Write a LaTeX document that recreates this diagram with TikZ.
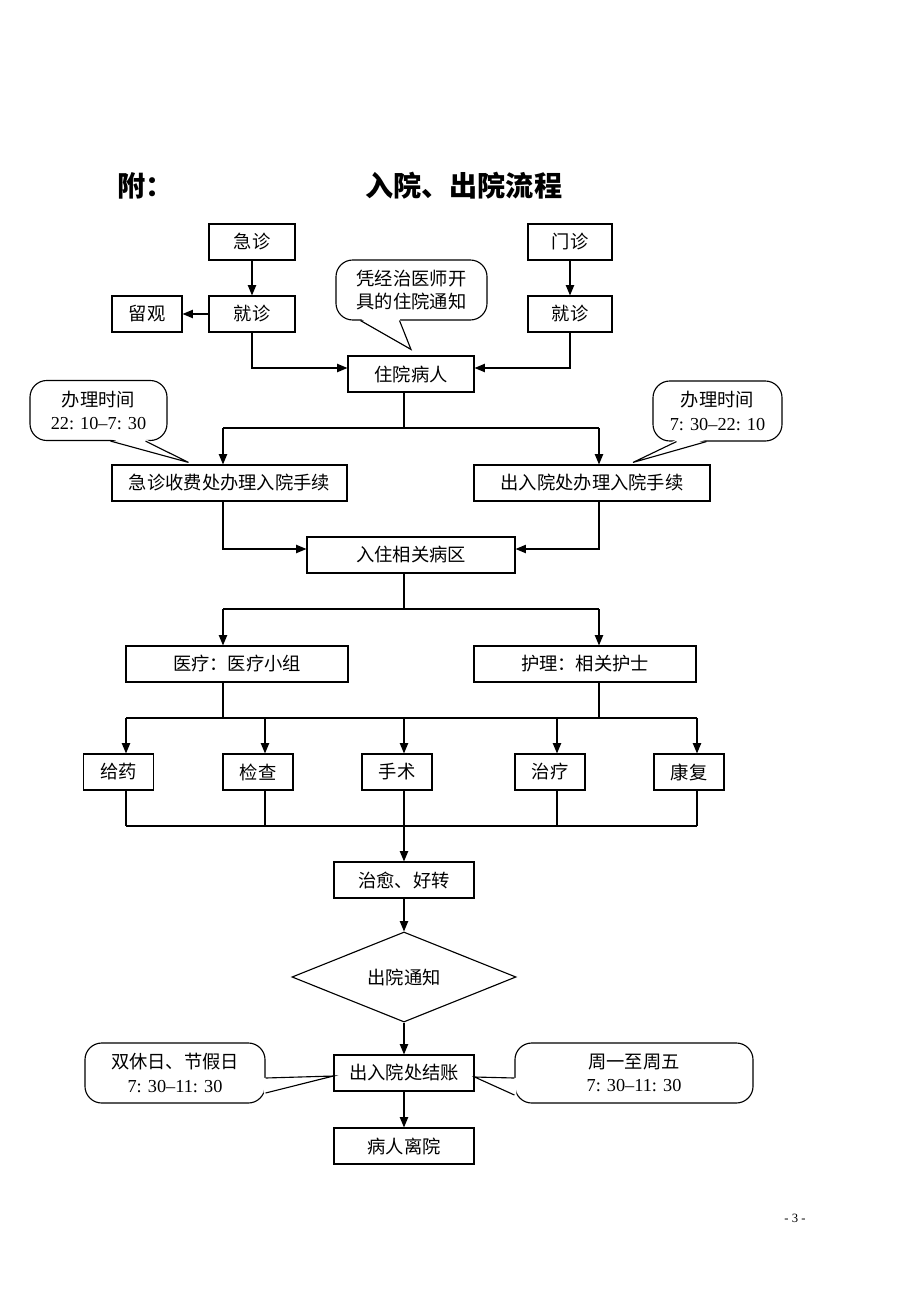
\documentclass[tikz,border=0pt]{standalone}
\usepackage{fontspec}
\setmainfont{Liberation Serif}
\newfontfamily\cjk{Noto Sans CJK SC}
\usepackage{tikz}
\usetikzlibrary{
    shapes.geometric,
    arrows.meta,
    positioning,
    calc
}
\tikzset{
    % Process box style
    process/.style={
        rectangle,
        minimum width=#1,
        minimum height=0.9cm,
        inner sep=0pt,
        align=center,
        font=\cjk\fontsize{13}{16}\selectfont,
        draw=black,
        fill=white,
        line width=0.8pt
    },
    process/.default=2.15cm,
    % Decision style
    decision/.style={
        diamond,
        minimum width=5.6cm,
        minimum height=2.1cm,
        inner sep=0pt,
        align=center,
        font=\cjk\fontsize{13}{16}\selectfont,
        draw=black,
        line width=0.8pt
    },
    % Callout box style
    callout box/.style={
        rectangle,
        rounded corners=0.42cm,
        minimum width=#1,
        minimum height=1.5cm,
        align=center,
        font=\cjk\fontsize{13}{16.5}\selectfont,
        draw=black,
        fill=white,
        line width=0.8pt
    },
    % Arrow styles
    flow/.style={
        -{Triangle[length=2.6mm, width=2.1mm]},
        line width=0.8pt,
        color=black
    },
    link/.style={
        line width=0.8pt,
        color=black
    },
    pointer line/.style={
        line width=0.8pt,
        line join=miter,
        color=black
    },
    % Title style
    title text/.style={
        font=\cjk\bfseries\fontsize{20}{24}\selectfont,
        inner sep=0pt,
        anchor=west
    }
}

\begin{document}
\begin{tikzpicture}[x=0.025cm, y=-0.025cm]
    \useasboundingbox (0,0) rectangle (920,1302);

    % Title
    \node[title text] (fu) at (117,186) {附：};
    \node[title text] (title) at (365,186) {入院、出院流程};

    % Columns and bus lines
    \coordinate (colA) at (126,0);
    \coordinate (colB) at (265,0);
    \coordinate (colC) at (404,0);
    \coordinate (colD) at (557,0);
    \coordinate (colE) at (697,0);
    \coordinate (colL) at (223,0);
    \coordinate (colR) at (599,0);
    \coordinate (busA) at (0,428);
    \coordinate (busB) at (0,609);
    \coordinate (busC) at (0,718);
    \coordinate (busD) at (0,826);

    % Entry
    \node[process=2.15cm] (er) at (252,242) {急诊};
    \node[process=2.1cm] (mz) at (570,242) {门诊};
    \node[process=2.15cm] (jzL) at (252,314) {就诊};
    \node[process=1.75cm] (lg) at (147,314) {留观};
    \node[process=2.1cm] (jzR) at (570,314) {就诊};
    \node[process=3.15cm] (zy) at (411,374) {住院病人};

    % Admission desks
    \node[process=5.875cm] (sfL) at (229.5,483) {急诊收费处办理入院手续};
    \node[process=5.9cm] (sfR) at (592,483) {出入院处办理入院手续};
    \node[process=5.2cm] (bq) at (411,555) {入住相关病区};

    % Ward care
    \node[process=5.55cm] (yl) at (237,664) {医疗：医疗小组};
    \node[process=5.55cm] (hl) at (585,664) {护理：相关护士};
    \node[process=1.75cm] (gy) at (118.5,772) {给药};
    \node[process=1.75cm] (jc) at (258,772) {检查};
    \node[process=1.75cm] (ss) at (397,772) {手术};
    \node[process=1.75cm] (zl) at (550,772) {治疗};
    \node[process=1.75cm] (kf) at (689,772) {康复};

    % Discharge
    \node[process=3.5cm] (hz) at (404,880) {治愈、好转};
    \node[decision] (tz) at (404,977) {出院通知};
    \node[process=3.5cm] (jz) at (404,1073) {出入院处结账};
    \node[process=3.5cm] (ly) at (404,1146) {病人离院};

    % Callouts
    \node[callout box=3.775cm] (noteZ) at (411.5,290) {凭经治医师开\\具的住院通知};
    \node[callout box=3.425cm] (noteL) at (98.5,410.5) {办理时间\\{\rmfamily 22: 10–7: 30}};
    \node[callout box=3.225cm] (noteR) at (717.5,411) {办理时间\\{\rmfamily 7: 30–22: 10}};
    \node[callout box=4.5cm] (noteW) at (175,1073) {双休日、节假日\\{\rmfamily 7: 30–11: 30}};
    \node[callout box=5.95cm] (noteE) at (634,1073) {周一至周五\\{\rmfamily 7: 30–11: 30}};

    % Page number
    \node[font=\fontsize{9}{11}\selectfont] (page) at (795,1218) {- 3 -};

    % Connections: entry
    \draw[flow] (er) -- (jzL);
    \draw[flow] (mz) -- (jzR);
    \draw[flow] (jzL) -- (lg);
    \draw[flow] (jzL.south) |- ([yshift=0.15cm]zy.west);
    \draw[flow] (jzR.south) |- ([yshift=0.15cm]zy.east);

    % Connections: admission
    \draw[link] (zy.south -| colC) -- (colC |- busA);
    \draw[link] (colL |- busA) -- (colR |- busA);
    \draw[flow] (colL |- busA) -- (colL |- sfL.north);
    \draw[flow] (colR |- busA) -- (colR |- sfR.north);
    \draw[flow] (colL |- sfL.south) |- ([yshift=0.15cm]bq.west);
    \draw[flow] (colR |- sfR.south) |- ([yshift=0.15cm]bq.east);

    % Connections: ward
    \draw[link] (bq.south -| colC) -- (colC |- busB);
    \draw[link] (colL |- busB) -- (colR |- busB);
    \draw[flow] (colL |- busB) -- (colL |- yl.north);
    \draw[flow] (colR |- busB) -- (colR |- hl.north);
    \draw[link] (colL |- yl.south) -- (colL |- busC);
    \draw[link] (colR |- hl.south) -- (colR |- busC);
    \draw[link] (colA |- busC) -- (colE |- busC);
    \draw[flow] (colA |- busC) -- (colA |- gy.north);
    \draw[flow] (colB |- busC) -- (colB |- jc.north);
    \draw[flow] (colC |- busC) -- (colC |- ss.north);
    \draw[flow] (colD |- busC) -- (colD |- zl.north);
    \draw[flow] (colE |- busC) -- (colE |- kf.north);
    \draw[link] (colA |- gy.south) -- (colA |- busD);
    \draw[link] (colB |- jc.south) -- (colB |- busD);
    \draw[link] (colC |- ss.south) -- (colC |- busD);
    \draw[link] (colD |- zl.south) -- (colD |- busD);
    \draw[link] (colE |- kf.south) -- (colE |- busD);
    \draw[link] (colA |- busD) -- (colE |- busD);

    % Connections: discharge
    \draw[flow] (colC |- busD) -- (hz);
    \draw[flow] (hz) -- (tz);
    \draw[flow] (tz) -- (jz);
    \draw[flow] (jz) -- (ly);

    % Callout pointers
    \fill[white] ($(noteZ.south)+(-51,-2)$) -- ([yshift=0.15cm]zy.north) -- ($(noteZ.south)+(-12,-2)$) -- cycle;
    \draw[pointer line] ($(noteZ.south)+(-51,0)$) -- ([yshift=0.15cm]zy.north) -- ($(noteZ.south)+(-12,0)$);
    \fill[white] ($(noteL.south)+(12,-2)$) -- ($(sfL.north)+(-41,-2)$) -- ($(noteL.south)+(47,-2)$) -- cycle;
    \draw[pointer line] ($(noteL.south)+(12,0)$) -- ($(sfL.north)+(-41,-2)$) -- ($(noteL.south)+(47,0)$);
    \fill[white] ($(noteR.south)+(-41,-2)$) -- ($(sfR.north)+(41,-2)$) -- ($(noteR.south)+(-11,-2)$) -- cycle;
    \draw[pointer line] ($(noteR.south)+(-41,0)$) -- ($(sfR.north)+(41,-2)$) -- ($(noteR.south)+(-11,0)$);
    \fill[white] ($(noteW.east)+(-2,5)$) -- ([yshift=-0.075cm]jz.west) -- ($(noteW.east)+(-2,20)$) -- cycle;
    \draw[pointer line] ($(noteW.east)+(0,5)$) -- ([yshift=-0.075cm]jz.west) -- ($(noteW.east)+(0,20)$);
    \fill[white] ($(noteE.west)+(2,5)$) -- ([yshift=-0.1cm]jz.east) -- ($(noteE.west)+(2,22)$) -- cycle;
    \draw[pointer line] ($(noteE.west)+(0,5)$) -- ([yshift=-0.1cm]jz.east) -- ($(noteE.west)+(0,22)$);

\end{tikzpicture}
\end{document}
